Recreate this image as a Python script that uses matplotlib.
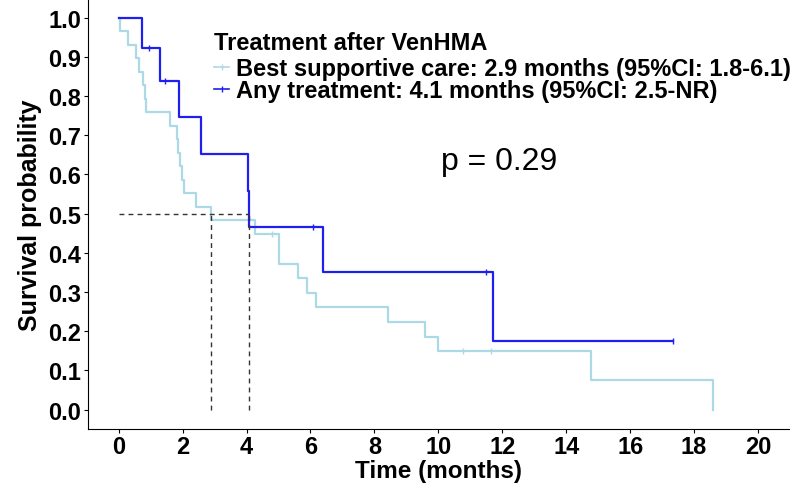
import matplotlib
matplotlib.use("Agg")
import matplotlib.pyplot as plt
from matplotlib.lines import Line2D
import numpy as np

plt.rcParams['font.family'] = ['Liberation Sans', 'DejaVu Sans']

# ---- data ----
bsc_label = "Best supportive care: 2.9 months (95%CI: 1.8-6.1)"
bsc_times = [0, 0.03, 0.28, 0.55, 0.65, 0.76, 0.81, 0.85, 1.59, 1.82, 1.87, 1.92, 1.98,
             2.03, 2.42, 2.90, 4.27, 5.02, 5.62, 5.89, 6.18, 8.43, 9.59, 9.99, 14.79, 18.6]
bsc_surv = [1.0, 0.966, 0.931, 0.897, 0.862, 0.828, 0.793, 0.759, 0.724, 0.690, 0.655, 0.621,
            0.586, 0.552, 0.517, 0.483, 0.448, 0.372, 0.335, 0.298, 0.261, 0.224, 0.186,
            0.149, 0.075, 0.0]
bsc_cens_t = [4.79, 10.76, 11.65]
bsc_cens_s = [0.448, 0.149, 0.149]

trt_label = "Any treatment: 4.1 months (95%CI: 2.5-NR)"
trt_times = [0, 0.73, 1.30, 1.90, 2.57, 4.03, 4.09, 6.38, 11.71, 17.33]
trt_surv = [1.0, 0.923, 0.839, 0.746, 0.653, 0.559, 0.466, 0.350, 0.175, 0.175]
trt_cens_t = [0.96, 1.46, 6.09, 11.49, 17.33]
trt_cens_s = [0.923, 0.839, 0.466, 0.350, 0.175]

legend_title = "Treatment after VenHMA"
p_text = "p = 0.29"
x_ticks = [0, 2, 4, 6, 8, 10, 12, 14, 16, 18, 20]
y_ticks = [0.0, 0.1, 0.2, 0.3, 0.4, 0.5, 0.6, 0.7, 0.8, 0.9, 1.0]

col_bsc = "#ADD8E6"
col_trt = "#1f1fef"

fig = plt.figure(figsize=(7.9, 4.85), dpi=100)
ax = fig.add_axes([0.111, 0.114, 0.889, 0.886])

def median_time(t, s):
    for ti, si in zip(t, s):
        if si <= 0.5:
            return ti
    return None

ax.step(bsc_times, bsc_surv, where='post', color=col_bsc, lw=1.6, zorder=2)
ax.plot(bsc_cens_t, bsc_cens_s, ls='none', marker='|', ms=5, mew=1.0, color=col_bsc, zorder=2)
ax.step(trt_times, trt_surv, where='post', color=col_trt, lw=1.6, zorder=3)
ax.plot(trt_cens_t, trt_cens_s, ls='none', marker='|', ms=5, mew=1.0, color=col_trt, zorder=3)

m1 = median_time(bsc_times, bsc_surv)
m2 = median_time(trt_times, trt_surv)
dash = dict(color='#333333', lw=1.0, ls=(0, (3.5, 3)), zorder=4)
ax.plot([0, max(m1, m2)], [0.5, 0.5], **dash)
ax.plot([m1, m1], [0, 0.5], **dash)
ax.plot([m2, m2], [0, 0.5], **dash)

ax.text(11.9, 0.635, p_text, ha='center', va='center', fontsize=23)

ax.set_xlim(-0.97, 21.0)
ax.set_ylim(-0.049, 1.048)
ax.set_xticks(x_ticks)
ax.set_yticks(y_ticks)
ax.set_yticklabels([f"{v:.1f}" for v in y_ticks])
ax.tick_params(axis='both', labelsize=17, length=3, width=0.8, pad=1.5)
for lab in ax.get_xticklabels() + ax.get_yticklabels():
    lab.set_fontweight('bold')
ax.spines['top'].set_visible(False)
ax.spines['right'].set_visible(False)
ax.spines['left'].set_linewidth(0.8)
ax.spines['bottom'].set_linewidth(0.8)
ax.set_xlabel("Time (months)", fontsize=17.5, fontweight='bold', labelpad=0.5)
ax.set_ylabel("Survival probability", fontsize=18, fontweight='bold', labelpad=4.5)

handles = [Line2D([], [], color=col_bsc, lw=1.2, marker='|', ms=5, mew=1.0),
           Line2D([], [], color=col_trt, lw=1.2, marker='|', ms=5, mew=1.0)]
leg = ax.legend(handles, [bsc_label, trt_label], title=legend_title,
                loc='upper left', bbox_to_anchor=(0.256, 0.958), bbox_transform=fig.transFigure,
                frameon=False, borderpad=0, handlelength=0.65, handletextpad=0.3,
                labelspacing=-0.05, prop={'size': 17, 'weight': 'bold'},
                title_fontproperties={'size': 17, 'weight': 'bold'}, alignment='left')
leg._legend_box.sep = 2

fig.savefig("out.png", dpi=100)
